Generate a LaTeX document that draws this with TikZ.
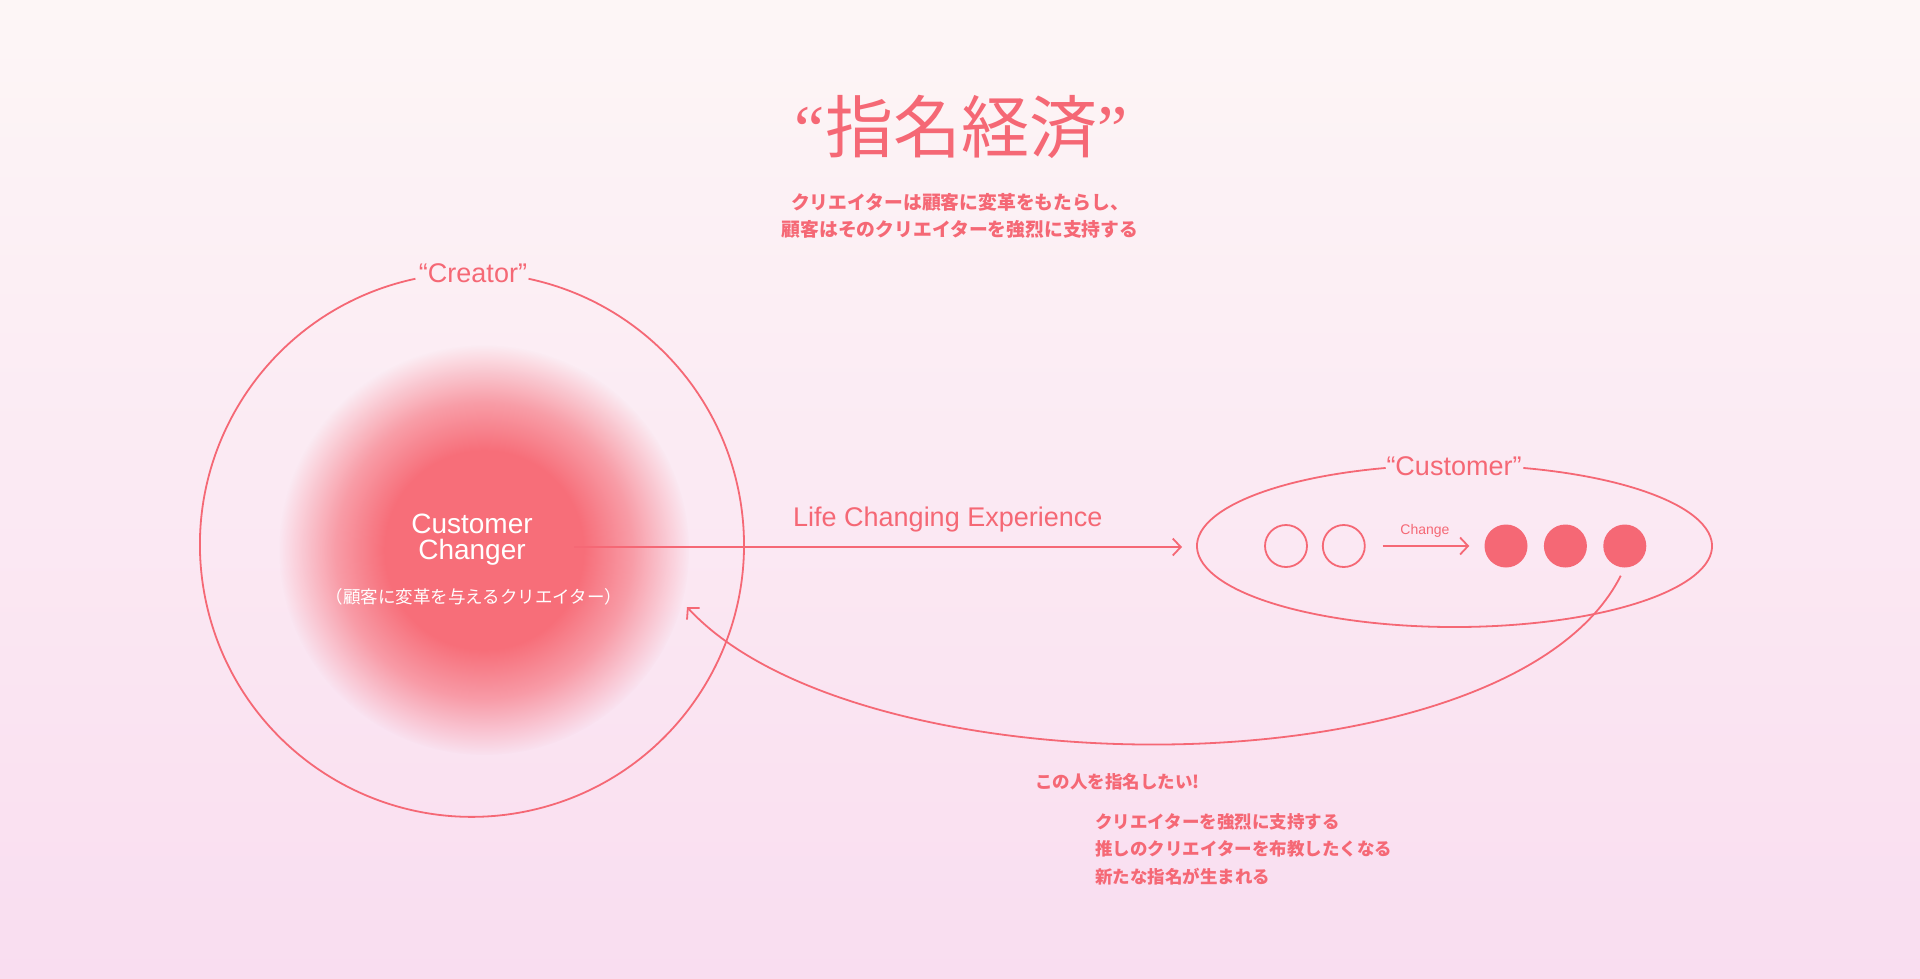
\documentclass[tikz,border=0pt]{standalone}
\usepackage{fontspec}
\setmainfont{Liberation Sans}
\newfontfamily\jp{Noto Sans CJK JP}
\newfontfamily\quotefont{Liberation Serif}
\usetikzlibrary{scopes,positioning,arrows.meta,fadings}
\definecolor{myred}{RGB}{245,104,117}
\definecolor{blobred}{RGB}{247,110,121}
\definecolor{bgtop}{RGB}{253,246,246}
\definecolor{bgmid}{RGB}{252,237,241}
\definecolor{bgbot}{RGB}{249,221,240}
\pgfdeclareradialshading{blobshading}{\pgfpoint{0bp}{0bp}}{color(0bp)=(white); color(12bp)=(white); color(18bp)=(white!62!black); color(25bp)=(black); color(50bp)=(black)}
\pgfdeclarefading{blobfade}{\pgfuseshading{blobshading}}
\tikzset{
  mytext/.style={text=myred,inner sep=0pt},
  myline/.style={draw=myred,line width=1.8pt},
  route/.style={myline,-{Straight Barb[length=8pt,width=17pt]}},
  mylabel/.style={mytext,font=\fontsize{27}{30}\selectfont},
  jptext/.style={mytext,font=\jp\bfseries\fontsize{17.5}{27.5}\selectfont},
  mydot/.style={circle,inner sep=0pt},
  mydotopen/.style={mydot,minimum size=42pt,draw=myred,line width=1.8pt},
  mydotfull/.style={mydot,minimum size=43pt,fill=myred}
}
\begin{document}
\begin{tikzpicture}[x=1pt,y=1pt]
  \shade[top color=bgtop,middle color=bgmid,bottom color=bgbot] (0,0) rectangle (1920,-978);
  \useasboundingbox (0,0) rectangle (1920,-978);

  \node[mytext,font=\jp\fontsize{68}{70}\selectfont] (title) at (961,-127) {{\quotefont “}指名経済{\quotefont ”}};
  \node[jptext,align=center,font=\jp\bfseries\fontsize{18.8}{27}\selectfont] (sub) at (960,-216) {クリエイターは顧客に変革をもたらし、\\顧客はそのクリエイターを強烈に支持する};

  \node[circle,minimum size=544pt,inner sep=0pt] (creator) at (472,-545) {};
  \fill[blobred,path fading=blobfade] (484,-550) circle (205);
  \draw[myline] (creator.102) arc[start angle=102,end angle=438,radius=272];
  \node[mylabel,anchor=base] (creatorlbl) at (473,-282) {“Creator”};
  \node[text=white,inner sep=0pt,align=center,anchor=north,font=\fontsize{28}{26}\selectfont] (changer) at (472,-514) {Customer\\Changer};
  \node[text=white,inner sep=0pt,font=\jp\fontsize{17.5}{20}\selectfont] (changerjp) at (474,-597) {（顧客に変革を与えるクリエイター）};

  \coordinate (customer) at (1454.5,-546);
  \draw[myline] (customer) ++(105.5:257.5 and 81) arc[start angle=105.5,end angle=434.5,x radius=257.5,y radius=81];
  \node[mylabel,anchor=base] (customerlbl) at (1454,-475) {“Customer”};
  \node[mydotopen] (e1) at (1286,-546) {};
  \node[mydotopen,right=14pt of e1] (e2) {};
  \node[mydotfull] (f1) at (1506,-546) {};
  \foreach \i [count=\j from 2] in {1,2}
    \node[mydotfull,right=16pt of f\i] (f\j) {};

  \coordinate (lcestart) at (574,-547);
  \coordinate (custwest) at (1197,-547);
  \coordinate (backtip) at (687,-607);
  {[route]
    \draw[shorten >=15pt] (lcestart) -- (custwest)
      node[mylabel,pos=0.6,above=14pt] (lcelbl) {Life Changing Experience};
    \draw[shorten <=17pt,shorten >=15pt] (e2) -- (f1)
      node[mytext,midway,above=7.5pt,font=\fontsize{14}{16}\selectfont] (changelbl) {Change};
    \draw[shorten <=9pt] (f3.south) .. controls (1510,-795) and (860,-795) .. (backtip);
  }

  \node[jptext,anchor=west] (wantlbl) at (1035,-782) {この人を指名したい!};
  \node[jptext,anchor=north west,align=left] (effects) at (1095,-813) {クリエイターを強烈に支持する\\推しのクリエイターを布教したくなる\\新たな指名が生まれる};
\end{tikzpicture}
\end{document}
